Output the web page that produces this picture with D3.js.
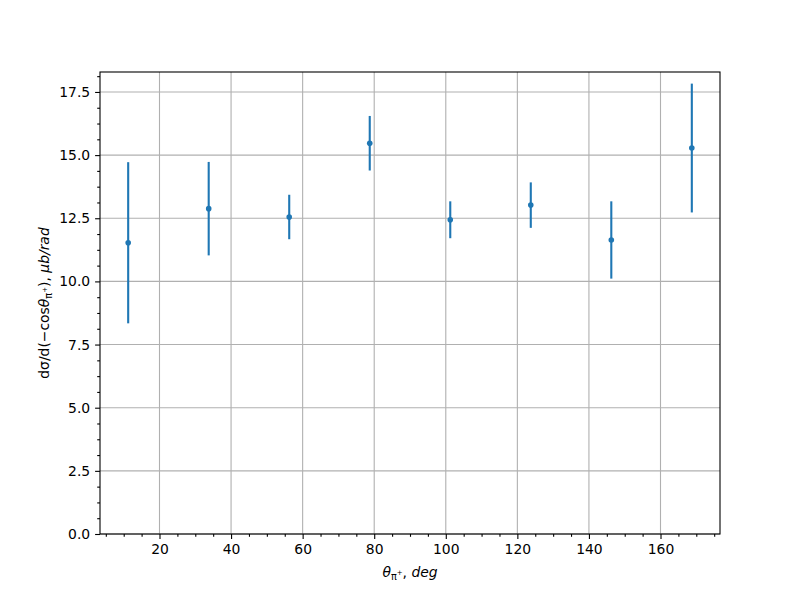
<!DOCTYPE html>
<html><head><meta charset="utf-8">
<script src="https://cdn.jsdelivr.net/npm/d3@7"></script>
<style>body{margin:0;background:#fff}</style>
</head><body>
<svg id="c" width="800" height="600"></svg>
<script>
const angles = [11.25, 33.75, 56.25, 78.75, 101.25, 123.75, 146.25, 168.75];
const xsec   = [11.53, 12.88, 12.55, 15.47, 12.44, 13.02, 11.64, 15.28];
const errs   = [3.19, 1.85, 0.88, 1.08, 0.73, 0.90, 1.53, 2.55];
const xTicks = [20, 40, 60, 80, 100, 120, 140, 160];
const yTicks = [0, 2.5, 5, 7.5, 10, 12.5, 15, 17.5];

const L = 100, R = 720, T = 72, B = 534;
const svg = d3.select("#c");
const font = "DejaVu Sans, sans-serif";
const x = d3.scaleLinear().domain([3.375, 176.625]).range([L, R]);
const y = d3.scaleLinear().domain([0, 18.29]).range([B, T]);

// grid
const g = svg.append("g");
g.selectAll(".gx").data(xTicks).enter().append("line")
  .attr("x1", d => x(d)).attr("x2", d => x(d)).attr("y1", T).attr("y2", B)
  .attr("stroke", "#b0b0b0").attr("stroke-width", 1.1);
g.selectAll(".gy").data(yTicks).enter().append("line")
  .attr("y1", d => y(d)).attr("y2", d => y(d)).attr("x1", L).attr("x2", R)
  .attr("stroke", "#b0b0b0").attr("stroke-width", 1.1);

// axes
const xMinor = d3.range(5, 176, 5).filter(v => v % 20 !== 0);
const yMinor = d3.range(0, 18.29, 0.625).filter(v => Math.abs(v / 2.5 - Math.round(v / 2.5)) > 1e-6);

const xAxis = svg.append("g").attr("transform", `translate(0,${B})`)
  .call(d3.axisBottom(x).tickValues(xTicks).tickSize(4.9).tickPadding(4.9).tickFormat(d3.format("d")));
const xAxisMinor = svg.append("g").attr("transform", `translate(0,${B})`)
  .call(d3.axisBottom(x).tickValues(xMinor).tickSize(2.8).tickFormat(""));
const yAxis = svg.append("g").attr("transform", `translate(${L},0)`)
  .call(d3.axisLeft(y).tickValues(yTicks).tickSize(4.9).tickPadding(4.9).tickFormat(d3.format(".1f")));
const yAxisMinor = svg.append("g").attr("transform", `translate(${L},0)`)
  .call(d3.axisLeft(y).tickValues(yMinor).tickSize(2.8).tickFormat(""));
[xAxis, xAxisMinor, yAxis, yAxisMinor].forEach(a => {
  a.select(".domain").remove();
  a.selectAll("line").attr("stroke", "#000").attr("stroke-width", 1.1);
  a.selectAll("text").attr("font-family", font).attr("font-size", 13.9).attr("fill", "#000");
});

// spines
svg.append("rect").attr("x", L).attr("y", T).attr("width", R - L).attr("height", B - T)
  .attr("fill", "none").attr("stroke", "#000").attr("stroke-width", 1.1);

// error bars
const color = "#1f77b4";
const pts = angles.map((a, i) => ({a, v: xsec[i], e: errs[i]}));
svg.selectAll(".eb").data(pts).enter().append("line")
  .attr("x1", d => x(d.a)).attr("x2", d => x(d.a))
  .attr("y1", d => y(d.v - d.e)).attr("y2", d => y(d.v + d.e))
  .attr("stroke", color).attr("stroke-width", 2.1);
svg.selectAll(".pt").data(pts).enter().append("circle")
  .attr("cx", d => x(d.a)).attr("cy", d => y(d.v)).attr("r", 2.8)
  .attr("fill", color);

// x label
const xl = svg.append("text").attr("x", (L + R) / 2).attr("y", 577)
  .attr("text-anchor", "middle").attr("font-family", font).attr("font-size", 13.9);
xl.append("tspan").attr("font-style", "italic").text("θ");
xl.append("tspan").attr("font-size", 9.7).attr("dy", 2.5).text("π");
xl.append("tspan").attr("font-size", 7).attr("dy", -5).text("+");
xl.append("tspan").attr("dy", 2.5).text(", ");
xl.append("tspan").attr("font-style", "italic").text("deg");

// y label
const yl = svg.append("text").attr("transform", `translate(49,${(T + B) / 2}) rotate(-90)`)
  .attr("text-anchor", "middle").attr("font-family", font).attr("font-size", 13.9);
yl.append("tspan").text("dσ/d(−cos");
yl.append("tspan").attr("font-style", "italic").text("θ");
yl.append("tspan").attr("font-size", 9.7).attr("dy", 2.5).text("π");
yl.append("tspan").attr("font-size", 7).attr("dy", -5).text("+");
yl.append("tspan").attr("dy", 2.5).text("), ");
yl.append("tspan").attr("font-style", "italic").text("μb/rad");
</script>
</body></html>
